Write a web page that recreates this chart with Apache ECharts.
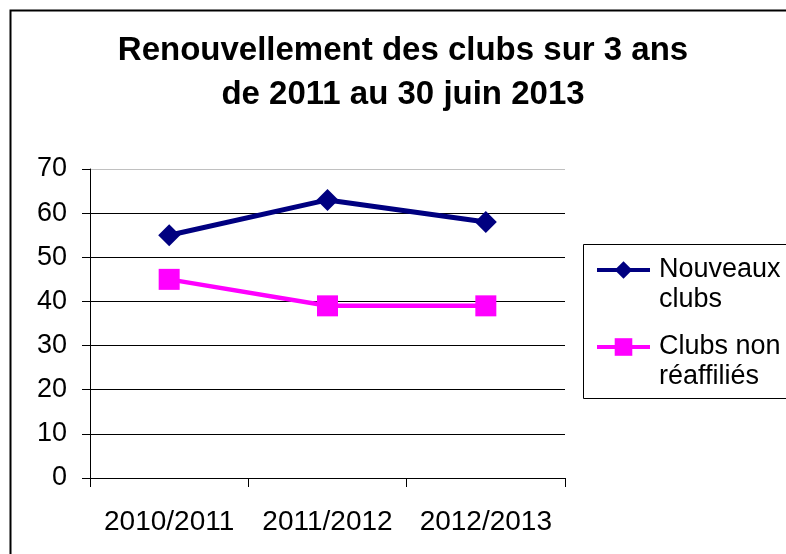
<!DOCTYPE html>
<html>
<head>
<meta charset="utf-8">
<script src="https://cdn.jsdelivr.net/npm/echarts@6/dist/echarts.min.js"></script>
<style>
  html, body { margin: 0; padding: 0; background: #fff; }
  #chart { width: 786px; height: 554px; }
</style>
</head>
<body>
<div id="chart"></div>
<script>
// données
const seasons = ['2010/2011', '2011/2012', '2012/2013'];
const nouveauxClubs = [55, 63, 58];
const clubsNonReaffilies = [45, 39, 39];
const yTicks = [0, 10, 20, 30, 40, 50, 60, 70];

const chart = echarts.init(document.getElementById('chart'));
const font = 'Arial, "Liberation Sans", sans-serif';
const lh = 30; // hauteur de ligne de la légende

const option = {
  backgroundColor: '#fff',
  animation: false,
  title: {
    text: 'Renouvellement des clubs sur 3 ans\nde 2011 au 30 juin 2013',
    left: 398,
    top: 24,
    textAlign: 'center',
    textStyle: { fontFamily: font, fontSize: 33, fontWeight: 'bold', color: '#000', lineHeight: 44 }
  },
  // cadre du graphique et de la légende
  graphic: [
    { type: 'rect', shape: { x: 10.5, y: 10.5, width: 800, height: 600 }, style: { fill: 'none', stroke: '#000', lineWidth: 2 }, z: -1 },
    { type: 'rect', shape: { x: 583.5, y: 244.5, width: 220, height: 154 }, style: { fill: 'none', stroke: '#000', lineWidth: 1 } }
  ],
  legend: {
    orient: 'vertical',
    left: 595,
    top: 270 - 1.5 * lh,
    padding: 0,
    itemWidth: 53,
    itemHeight: 22,
    itemGap: 77 - 3 * lh,
    lineStyle: { width: 4 },
    textStyle: { fontFamily: font, fontSize: 27, color: '#000', lineHeight: lh, padding: [0, 0, 0, 4] },
    // ligne vide en tête pour aligner le symbole sur la première ligne du texte
    formatter: function (name) {
      return name === 'Nouveaux clubs' ? '\u00a0\nNouveaux\nclubs' : '\u00a0\nClubs non\nréaffiliés';
    },
    data: ['Nouveaux clubs', 'Clubs non réaffiliés']
  },
  grid: { left: 90, right: 221, top: 169, bottom: 76, containLabel: false },
  xAxis: {
    type: 'category',
    data: seasons,
    boundaryGap: true,
    axisLine: { lineStyle: { color: '#000', width: 1 } },
    axisTick: { show: true, interval: 0, length: 9, lineStyle: { color: '#000' } },
    axisLabel: { interval: 0, fontFamily: font, fontSize: 28, color: '#000', margin: 30 }
  },
  yAxis: {
    type: 'value',
    min: yTicks[0],
    max: yTicks[yTicks.length - 1],
    interval: 10,
    axisLine: { show: true, lineStyle: { color: '#000', width: 1 } },
    axisTick: { show: true, length: 8, lineStyle: { color: '#000' } },
    axisLabel: { fontFamily: font, fontSize: 27, color: '#000', margin: 23 },
    splitLine: {
      show: true,
      lineStyle: { color: ['#000', '#000', '#000', '#000', '#000', '#000', '#000', '#c0c0c0'], width: 1 }
    }
  },
  series: [
    {
      name: 'Nouveaux clubs',
      type: 'line',
      data: nouveauxClubs,
      symbol: 'diamond',
      symbolSize: 22,
      itemStyle: { color: '#000080' },
      lineStyle: { color: '#000080', width: 5 }
    },
    {
      name: 'Clubs non réaffiliés',
      type: 'line',
      data: clubsNonReaffilies,
      symbol: 'rect',
      symbolSize: 21,
      itemStyle: { color: '#ff00ff' },
      lineStyle: { color: '#ff00ff', width: 4.5 }
    }
  ]
};

chart.setOption(option);
</script>
</body>
</html>
